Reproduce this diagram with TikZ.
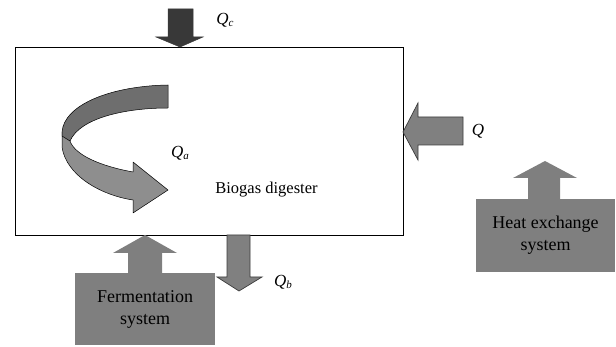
\documentclass[tikz,border=0pt]{standalone}
\usepackage{fontspec}
\setmainfont{Liberation Serif}
\definecolor{arrgray}{HTML}{808080}
\definecolor{arredge}{HTML}{3C3C3C}
\definecolor{boxgray}{HTML}{7F7F7F}
\definecolor{darkarr}{HTML}{383838}
\definecolor{bandtop}{HTML}{6E6E6E}
\definecolor{bandbot}{HTML}{8E8E8E}
\newcommand{\qsub}[1]{\textit{Q}\raisebox{-0.35ex}{\fontsize{11}{12}\selectfont\textit{#1}}}
\begin{document}
\begin{tikzpicture}[x=1pt,y=-1pt,
  blk/.style={fill=arrgray, draw=arredge, line width=0.7pt, line join=miter},
  sysarrow/.style={fill=boxgray, draw=none},
  sysbox/.style={fill=boxgray, draw=none, inner sep=0pt, align=center,
    font=\fontsize{18}{22}\selectfont},
  qlab/.style={font=\fontsize{17}{20}\selectfont, inner sep=0pt},
  band/.style={draw=black, line width=0.5pt, line join=round}]
\useasboundingbox (0,0) rectangle (616,347);

% main digester
\node[draw, line width=0.8pt, minimum width=388pt, minimum height=188pt, inner sep=0pt] (dig) at (209,141) {};
\node[font=\fontsize{16.5}{20}\selectfont, inner sep=0pt] (biogas) at (266.5,190) {Biogas digester};

% Qc arrow (dark, from top)
\draw[fill=darkarr, draw=darkarr, line width=0.5pt]
  (168,9) -- (193,9) -- (193,37) -- (203,37) -- (180,47) -- (156,37) -- (168,37) -- cycle;
\node[qlab] (qc) at (225,20) {\qsub{c}};

% Q arrow (from right)
\draw[blk] (463,117) -- (463,145) -- (418,145) -- (418,160) -- (403,132) -- (418,103) -- (418,117) -- cycle;
\node[qlab] (q) at (478,131) {\textit{Q}};

% Qb arrow (downwards)
\draw[blk] (227,235) -- (250,235) -- (250,277) -- (262,277) -- (239,291) -- (217,277) -- (227,277) -- cycle;
\node[qlab] (qb) at (283,282) {\qsub{b}};

% Fermentation system
\node[sysbox, minimum width=140pt, minimum height=72pt] (fer) at (145,309) {Fermentation\\system};
\fill[boxgray] (128,274) -- (128,253) -- (113,253) -- (145,235) -- (177,253) -- (162,253) -- (162,274) -- cycle;

% Heat exchange system
\node[sysbox, minimum width=139pt, minimum height=73pt] (heat) at (545.5,235.5) {Heat exchange\\system};
\fill[boxgray] (528,200) -- (528,178) -- (513,178) -- (545,161) -- (577,178) -- (560,178) -- (560,200) -- cycle;

% curved 3D arrow Qa
\draw[band, fill=bandbot]
  (62,132) -- (62,147) .. controls (66,175) and (100,195) .. (133,200)
  -- (133,213) -- (168,190) -- (133,162) -- (133,172)
  .. controls (100,166) and (75,155) .. (70,141) -- cycle;
\draw[band, fill=bandtop]
  (168,85) .. controls (110,86) and (64,105) .. (62,132)
  -- (62,136) -- (70,141)
  .. controls (80,118) and (125,108) .. (168,108) -- cycle;
\node[qlab] (qa) at (180,153) {\qsub{a}};
\end{tikzpicture}
\end{document}
